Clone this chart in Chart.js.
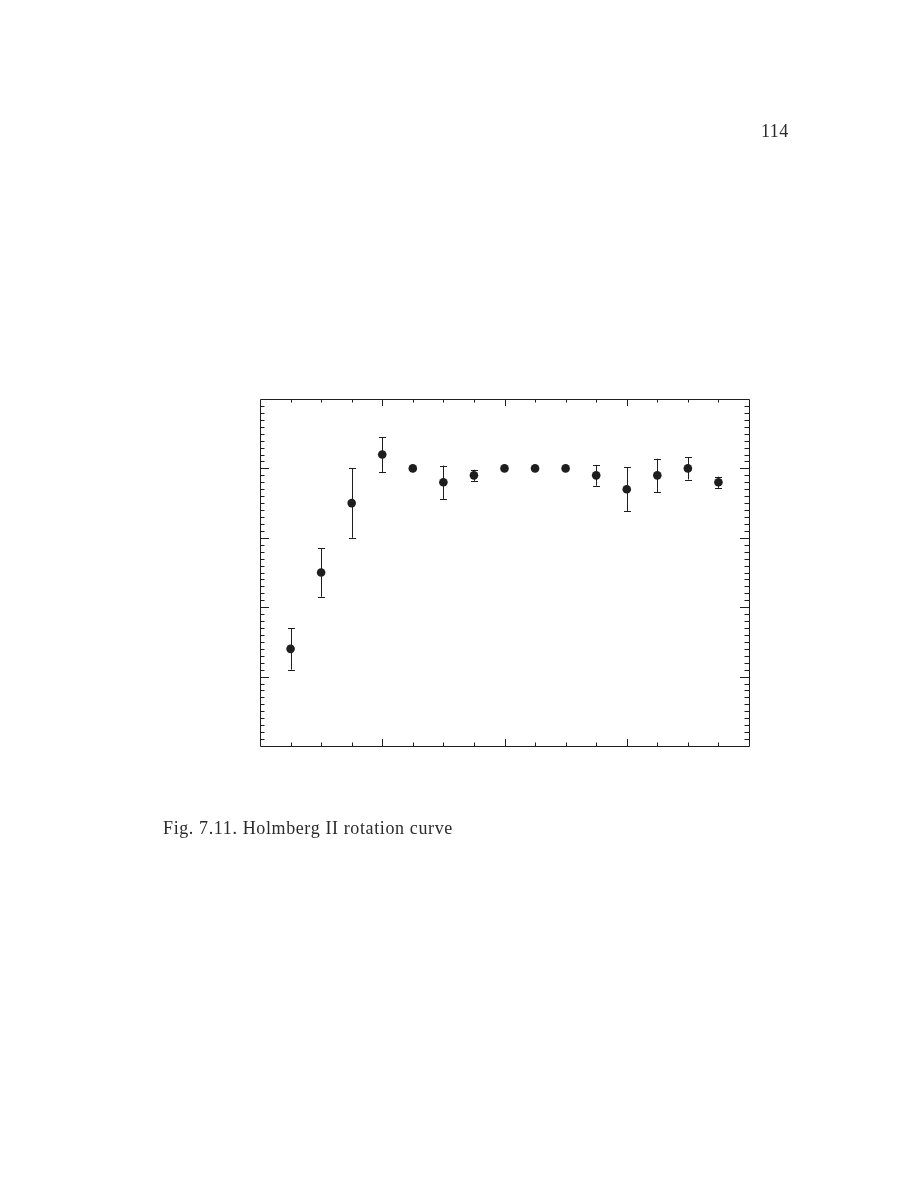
<!DOCTYPE html>
<html>
<head>
<meta charset="utf-8">
<script src="https://cdn.jsdelivr.net/npm/chart.js@4/dist/chart.umd.min.js"></script>
<style>
  html, body { margin: 0; padding: 0; background: #ffffff; }
  #page { position: relative; width: 918px; height: 1188px; overflow: hidden; }
  #chart { position: absolute; left: 0; top: 0; }
  .txt { position: absolute; font-family: "Liberation Serif", "DejaVu Serif", serif; color: #2a2a2a; white-space: nowrap; }
  #pageno { left: 761px; top: 121px; font-size: 18px; letter-spacing: 0.4px; }
  #caption { left: 163px; top: 818px; font-size: 18px; letter-spacing: 0.62px; }
</style>
</head>
<body>
<div id="page">
  <canvas id="chart" width="918" height="1188"></canvas>
  <div class="txt" id="pageno">114</div>
  <div class="txt" id="caption">Fig. 7.11. Holmberg II rotation curve</div>
</div>
<script>
// ---- data ----
const radius = [1, 2, 3, 4, 5, 6, 7, 8, 9, 10, 11, 12, 13, 14, 15];
const velocity = [14, 25, 35, 42, 40, 38, 39, 40, 40, 40, 39, 37, 39, 40, 38];
const velocityError = [3, 3.5, 5, 2.5, 0, 2.4, 0.8, 0, 0, 0, 1.5, 3.2, 2.4, 1.6, 0.8];

// axis ranges and tick spacing (no tick labels are printed in the figure)
const xRange = [0, 16];
const yRange = [0, 50];
const xMinorStep = 1, xMajorStep = 4;
const yMinorStep = 1, yMajorStep = 10;

const INK = '#1e1e1e';

const errorBarPlugin = {
  id: 'errorBars',
  beforeDatasetsDraw(chart) {
    const ctx = chart.ctx;
    const xs = chart.scales.x, ys = chart.scales.y;
    ctx.save();
    ctx.strokeStyle = INK;
    ctx.lineWidth = 1;
    for (let i = 0; i < radius.length; i++) {
      const e = velocityError[i];
      if (!e) continue;
      const px = Math.round(xs.getPixelForValue(radius[i])) + 0.5;
      const top = ys.getPixelForValue(velocity[i] + e);
      const bot = ys.getPixelForValue(velocity[i] - e);
      ctx.beginPath();
      ctx.moveTo(px, top); ctx.lineTo(px, bot);
      ctx.moveTo(px - 3.5, Math.round(top) + 0.5); ctx.lineTo(px + 3.5, Math.round(top) + 0.5);
      ctx.moveTo(px - 3.5, Math.round(bot) + 0.5); ctx.lineTo(px + 3.5, Math.round(bot) + 0.5);
      ctx.stroke();
    }
    ctx.restore();
  }
};

const framePlugin = {
  id: 'frameTicks',
  afterDraw(chart) {
    const ctx = chart.ctx;
    const a = chart.chartArea;
    const xs = chart.scales.x, ys = chart.scales.y;
    ctx.save();
    ctx.strokeStyle = INK;
    ctx.lineWidth = 1;
    ctx.beginPath();
    ctx.rect(Math.round(a.left) + 0.5, Math.round(a.top) + 0.5,
             Math.round(a.right - a.left), Math.round(a.bottom - a.top));
    ctx.stroke();
    ctx.beginPath();
    for (let v = xRange[0] + xMinorStep; v < xRange[1]; v += xMinorStep) {
      const px = Math.round(xs.getPixelForValue(v)) + 0.5;
      const len = (v % xMajorStep === 0) ? 7 : 3.5;
      ctx.moveTo(px, a.bottom); ctx.lineTo(px, a.bottom - len);
      ctx.moveTo(px, a.top); ctx.lineTo(px, a.top + len);
    }
    for (let v = yRange[0] + yMinorStep; v < yRange[1]; v += yMinorStep) {
      const py = Math.round(ys.getPixelForValue(v)) + 0.5;
      const len = (v % yMajorStep === 0) ? 9 : 4.5;
      ctx.moveTo(a.left, py); ctx.lineTo(a.left + len, py);
      ctx.moveTo(a.right, py); ctx.lineTo(a.right - len, py);
    }
    ctx.stroke();
    ctx.restore();
  }
};

new Chart(document.getElementById('chart'), {
  type: 'scatter',
  data: {
    datasets: [{
      data: radius.map((r, i) => ({ x: r, y: velocity[i] })),
      pointRadius: 4.3,
      pointHoverRadius: 4.3,
      pointBackgroundColor: INK,
      pointBorderColor: INK,
      pointBorderWidth: 0,
      showLine: false
    }]
  },
  options: {
    responsive: false,
    animation: false,
    devicePixelRatio: 1,
    layout: { padding: { left: 260, top: 399, right: 169, bottom: 442 } },
    plugins: { legend: { display: false }, tooltip: { enabled: false }, title: { display: false } },
    scales: {
      x: { type: 'linear', min: xRange[0], max: xRange[1], display: false },
      y: { type: 'linear', min: yRange[0], max: yRange[1], display: false }
    }
  },
  plugins: [errorBarPlugin, framePlugin]
});
</script>
</body>
</html>
